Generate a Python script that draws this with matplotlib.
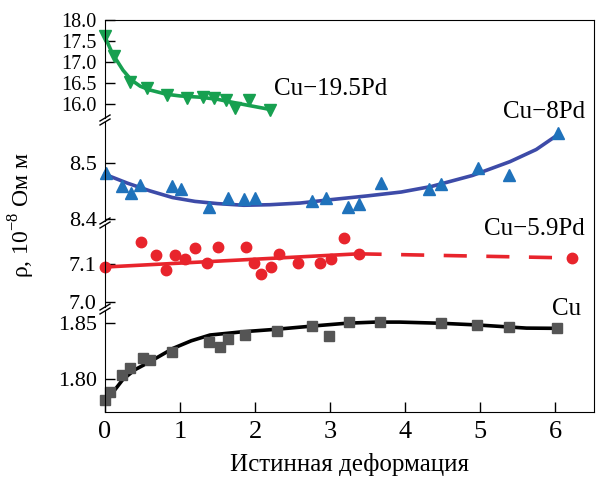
import matplotlib
matplotlib.use('Agg')
import matplotlib.pyplot as plt
from matplotlib.lines import Line2D

plt.rcParams['font.family'] = ['Liberation Serif', 'DejaVu Serif']
plt.rcParams['mathtext.fontset'] = 'custom'
plt.rcParams['mathtext.rm'] = 'Liberation Serif'

# --- data ---
# Cu-19.5Pd
g_x = [0, 0.12, 0.33, 0.56, 0.82, 1.09, 1.30, 1.45, 1.61, 1.73, 1.92, 2.20]
g_y = [17.61, 17.14, 16.53, 16.38, 16.22, 16.14, 16.18, 16.14, 16.10, 15.91, 16.10, 15.87]
g_fit_x = [0, 0.1, 0.24, 0.35, 0.47, 0.6, 0.82, 1.0, 1.27, 1.5, 1.67, 1.9, 2.2]
g_fit_y = [17.60, 17.20, 16.81, 16.58, 16.43, 16.34, 16.24, 16.20, 16.17, 16.12, 16.06, 15.98, 15.88]

# Cu-8Pd
b_x = [0.01, 0.22, 0.34, 0.47, 0.89, 1.01, 1.39, 1.64, 1.85, 2.0, 2.76, 2.95,
       3.24, 3.38, 3.68, 4.32, 4.48, 4.97, 5.38, 6.04]
b_y = [8.482, 8.459, 8.447, 8.461, 8.459, 8.453, 8.421, 8.437, 8.435, 8.438, 8.432, 8.438,
       8.420, 8.426, 8.464, 8.453, 8.462, 8.492, 8.479, 8.555]
b_fit_x = [0, 0.3, 0.6, 0.9, 1.2, 1.5, 1.85, 2.2, 2.6, 3.0, 3.5, 3.95, 4.35, 4.9, 5.4, 5.75, 6.04]
b_fit_y = [8.480, 8.464, 8.450, 8.438, 8.431, 8.427, 8.424, 8.425, 8.428, 8.434, 8.441, 8.448,
           8.458, 8.478, 8.503, 8.525, 8.552]

# Cu-5.9Pd
r_x = [0, 0.48, 0.68, 0.81, 0.93, 1.07, 1.2, 1.36, 1.5, 1.88, 1.99, 2.08, 2.21, 2.32,
       2.57, 2.86, 3.01, 3.19, 3.38, 6.22]
r_y = [7.092, 7.158, 7.124, 7.084, 7.124, 7.113, 7.142, 7.103, 7.146, 7.146, 7.103, 7.073,
       7.093, 7.126, 7.103, 7.103, 7.113, 7.168, 7.126, 7.115]
r_fit_x = [0, 3.38]
r_fit_y = [7.092, 7.127]
r_ext_x = [3.38, 6.22]
r_ext_y = [7.127, 7.116]

# Cu
c_x = [0, 0.07, 0.23, 0.33, 0.51, 0.6, 0.89, 1.39, 1.53, 1.64, 1.87, 2.29, 2.76, 2.98,
       3.25, 3.67, 4.48, 4.96, 5.39, 6.03]
c_y = [1.7817, 1.789, 1.8038, 1.8097, 1.8186, 1.817, 1.8244, 1.8332, 1.8283, 1.8353,
       1.8391, 1.8429, 1.8473, 1.8385, 1.8504, 1.8509, 1.8495, 1.848, 1.8465, 1.845]
c_fit_x = [0, 0.13, 0.24, 0.4, 0.6, 0.91, 1.15, 1.4, 1.84, 2.29, 2.78, 3.22, 3.6, 3.93,
           4.47, 4.96, 5.62, 6.03]
c_fit_y = [1.7785, 1.7906, 1.800, 1.8085, 1.8156, 1.8274, 1.834, 1.8391, 1.842, 1.8442,
           1.8471, 1.8495, 1.8505, 1.8505, 1.8495, 1.848, 1.8452, 1.845]

x_ticks = [0, 1, 2, 3, 4, 5, 6]

# --- layout in pixels ---
W, H = 598, 480
L, R = 105, 594
XMAX = 6.52

fig = plt.figure(figsize=(W / 100, H / 100), dpi=100)


def box(top, bottom):
    return [L / W, 1 - bottom / H, (R - L) / W, (bottom - top) / H]


# outer frame: top, right, bottom spines and x axis
frame = fig.add_axes(box(20, 411.5))
frame.set_xlim(0, XMAX)
frame.set_ylim(0, 1)
frame.set_yticks([])
frame.spines['left'].set_visible(False)
frame.set_xticks(x_ticks)
frame.tick_params(axis='x', direction='in', length=7, width=1, labelsize=19, pad=7)
frame.set_xlabel('Истинная деформация', fontsize=18, labelpad=7)

panels = [
    (20, 118, (15.677, 18.0), [16.0, 16.5, 17.0, 17.5, 18.0], '%.1f', 14.5),
    (122, 221, (8.3955, 8.5748), [8.4, 8.5], '%.1f', 16),
    (225, 307, (6.986, 7.2034), [7.0, 7.1], '%.1f', 16),
    (311, 411.5, (1.7716, 1.8603), [1.80, 1.85], '%.2f', 16),
]

axes = []
for top, bottom, ylim, ticks, fmt, fs in panels:
    ax = fig.add_axes(box(top, bottom))
    ax.patch.set_visible(False)
    ax.set_xlim(0, XMAX)
    ax.set_ylim(*ylim)
    ax.set_xticks([])
    for s in ['top', 'right', 'bottom']:
        ax.spines[s].set_visible(False)
    ax.set_yticks(ticks)
    ax.set_yticklabels([fmt % t for t in ticks])
    ax.tick_params(axis='y', direction='in', length=7, width=1, labelsize=fs, pad=6)
    axes.append(ax)

# break marks on the left spine
for top, bottom, *_ in panels:
    for yy in ([bottom] if top == 20 else [top, bottom] if bottom != 411.5 else [top]):
        fig.add_artist(Line2D([(L - 5) / W, (L + 5) / W],
                              [1 - (yy + 3) / H, 1 - (yy - 3) / H],
                              color='black', lw=1))

ax1, ax2, ax3, ax4 = axes

green = '#17a050'
ax1.plot(g_fit_x, g_fit_y, color=green, lw=2.6, clip_on=False)
ax1.plot(g_x, g_y, 'v', color=green, ms=9, clip_on=False)

ax2.plot(b_fit_x, b_fit_y, color='#3d4ba8', lw=2.6, clip_on=False)
ax2.plot(b_x, b_y, '^', color='#1f72bb', ms=9, clip_on=False)

red = '#e8242c'
ax3.plot(r_fit_x, r_fit_y, color=red, lw=2.6, clip_on=False)
ax3.plot(r_ext_x, r_ext_y, color=red, lw=2.6, dashes=(6.4, 5.4), clip_on=False)
ax3.plot(r_x, r_y, 'o', color=red, ms=7.5, clip_on=False)

ax4.plot(c_fit_x, c_fit_y, color='black', lw=2.6, clip_on=False)
ax4.plot(c_x, c_y, 's', color='#555555', ms=6.5, clip_on=False)

# labels
def ftext(px, py, s, **kw):
    fig.text(px / W, 1 - py / H, s, fontsize=18, va='baseline', **kw)


ftext(274, 95, 'Cu\u221219.5Pd', ha='left')
ftext(585, 118, 'Cu\u22128Pd', ha='right')
ftext(585, 235, 'Cu\u22125.9Pd', ha='right')
ftext(581, 315, 'Cu', ha='right')

fig.text(22 / W, 1 - 215 / H, r'ρ, 10$^{-8}$ Ом м', rotation=90,
         ha='center', va='center', fontsize=17)

fig.savefig('out.png', dpi=100)
